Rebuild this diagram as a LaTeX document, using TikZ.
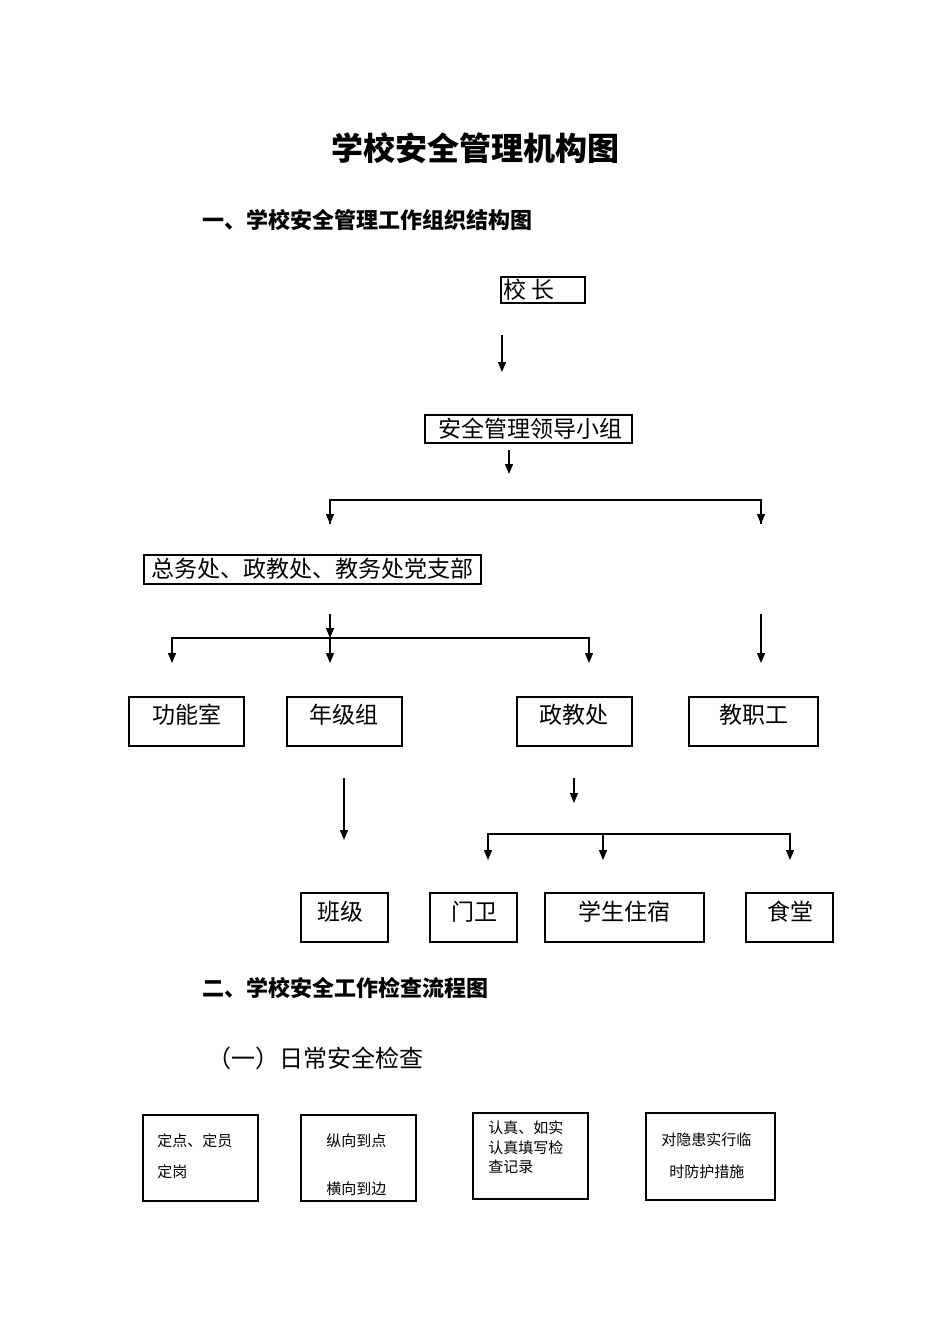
\documentclass[tikz,border=0pt]{standalone}
\usepackage{fontspec}
\setmainfont{Noto Sans CJK SC}
\usetikzlibrary{arrows.meta}
\begin{document}
\begin{tikzpicture}[x=0.5pt,y=-0.5pt,
  bx/.style={draw,line width=0.6pt},
  ar/.style={line width=0.6pt,-{Triangle[length=5pt,width=4pt]}},
  ln/.style={line width=0.6pt},
  t/.style={font=\fontsize{11.5pt}{13pt}\selectfont,inner sep=0},
  s/.style={font=\fontsize{7.5pt}{9pt}\selectfont,inner sep=0,anchor=west}]
\useasboundingbox (0,0) rectangle (950,1344);
\node[font=\fontsize{16pt}{18pt}\selectfont\bfseries] (title) at (475,148) {学校安全管理机构图};
\node[anchor=west,font=\fontsize{11pt}{13pt}\selectfont\bfseries] (h1) at (195,220) {一、学校安全管理工作组织结构图};
% boxes
\draw[bx] (501,277) rectangle (585,303); \node[t,anchor=west] (xz) at (503,290) {校\ 长};
\draw[bx] (425,415) rectangle (632,443); \node[t] (ld) at (530,429) {安全管理领导小组};
\draw[bx] (144,555) rectangle (481,584); \node[t] (zw) at (312,569) {总务处、政教处、教务处党支部};
\draw[bx] (129,697) rectangle (244,746); \node[t] (gn) at (187,715) {功能室};
\draw[bx] (287,697) rectangle (402,746); \node[t] (nj) at (344,715) {年级组};
\draw[bx] (517,697) rectangle (632,746); \node[t] (zj) at (574,715) {政教处};
\draw[bx] (689,697) rectangle (818,746); \node[t] (jz) at (754,715) {教职工};
\draw[bx] (301,893) rectangle (388,942); \node[t] (bj) at (340,912) {班级};
\draw[bx] (430,893) rectangle (517,942); \node[t] (mw) at (474,912) {门卫};
\draw[bx] (545,893) rectangle (704,942); \node[t] (xs) at (624,912) {学生住宿};
\draw[bx] (746,893) rectangle (833,942); \node[t] (st) at (790,912) {食堂};
% connectors
\coordinate (a1) at (502,335); \coordinate (a2) at (502,372);
\draw[ar] (a1) -- (a2);
\coordinate (b1) at (509,450); \coordinate (b2) at (509,474);
\draw[ar] (b1) -- (b2);
\coordinate (c1) at (330,500); \coordinate (c2) at (761,500);
\draw[ln] (330,524) -- (c1) -- (c2) -- (761,524);
\draw[ar] (330,512) -- (330,524); \draw[ar] (761,512) -- (761,524);
\draw[ar] (330,614) -- (330,638);
\draw[ln] (172,650) -- (172,638) -- (589,638) -- (589,650);
\draw[ar] (172,648) -- (172,663); \draw[ar] (330,638) -- (330,663); \draw[ar] (589,648) -- (589,663);
\draw[ar] (761,614) -- (761,663);
\draw[ar] (344,778) -- (344,840);
\draw[ar] (574,778) -- (574,803);
\draw[ln] (488,846) -- (488,834) -- (790,834) -- (790,846);
\draw[ar] (488,846) -- (488,860); \draw[ar] (603,834) -- (603,860); \draw[ar] (790,846) -- (790,860);
% section 2
\node[anchor=west,font=\fontsize{11pt}{13pt}\selectfont\bfseries] (h2) at (195,988) {二、学校安全工作检查流程图};
\node[anchor=west,font=\fontsize{12pt}{14pt}\selectfont] (h3) at (200,1058) {（一）日常安全检查};
\draw[bx] (143,1115) rectangle (258,1201);
\node[s] (p1) at (157,1141) {定点、定员}; \node[s] (p2) at (157,1172) {定岗};
\draw[bx] (301,1115) rectangle (416,1201);
\node[s] (q1) at (326,1141) {纵向到点}; \node[s] (q2) at (326,1189) {横向到边};
\draw[bx] (473,1113) rectangle (588,1199);
\node[s] (r1) at (488,1128) {认真、如实}; \node[s] (r2) at (488,1148) {认真填写检}; \node[s] (r3) at (488,1167) {查记录};
\draw[bx] (646,1113) rectangle (775,1200);
\node[s] (u1) at (661,1140) {对隐患实行临}; \node[s] (u2) at (669,1172) {时防护措施};
\end{tikzpicture}
\end{document}
